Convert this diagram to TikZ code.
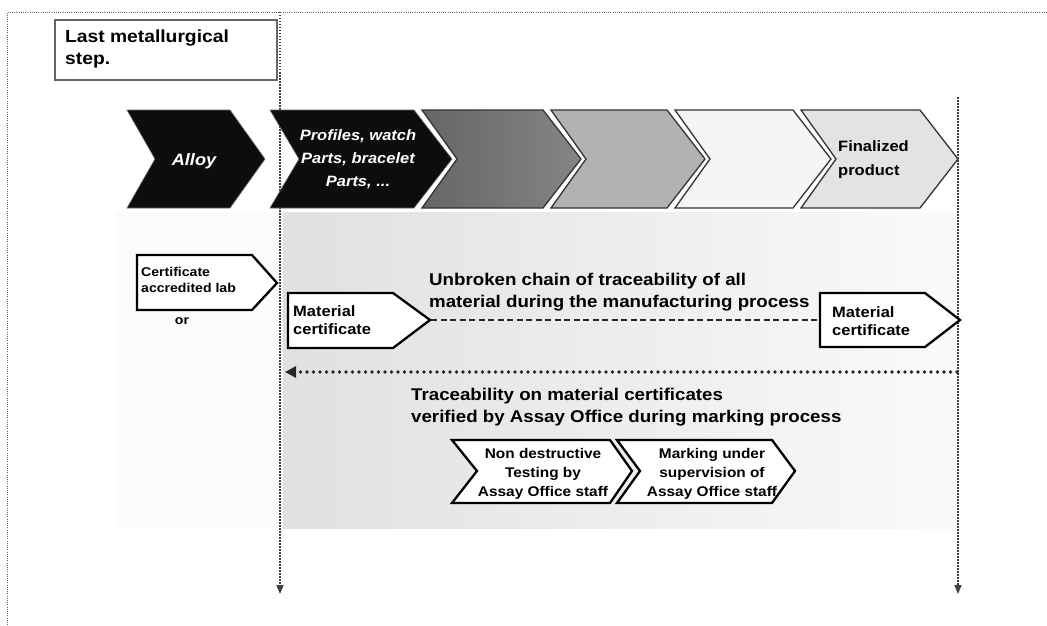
\documentclass[tikz,border=0pt]{standalone}
\usepackage{fontspec}
\setmainfont[FakeStretch=1.1]{Liberation Sans}
\usetikzlibrary{arrows.meta}
\begin{document}
\begin{tikzpicture}[x=1pt,y=-1pt,
  frame/.style={draw=black!60, line width=0.9pt, dash pattern=on 1pt off 1.2pt},
  guide/.style={draw=black!75, line width=1.6pt, dash pattern=on 1.5pt off 1.5pt, -{Triangle[length=9pt,width=7pt]}},
  dotarrow/.style={draw=black!85, line width=3.6pt, dash pattern=on 0pt off 6.5pt, line cap=round, -{Triangle[length=11pt,width=11pt]}},
  dasharrow/.style={draw=black!85, line width=2.4pt, dash pattern=on 6pt off 3.5pt},
  darkchev/.style={fill=black!95, draw=black!60, line width=0.6pt},
  graychev/.style={draw=black!80, line width=1.3pt, line join=miter},
  cert/.style={draw=black, line width=2.3pt, fill=white, line join=miter},
  titlebox/.style={draw=black!60, line width=2.2pt, fill=white},
  wtxt/.style={text=white, inner sep=0pt, align=center},
  btxt/.style={text=black, inner sep=0pt},
]
\useasboundingbox (0,0) rectangle (1047,626);
\fill[white] (0,0) rectangle (1047,626);
% background shading
\fill[gray!3] (115,212) rectangle (283,528);
\shade[left color=gray!24, middle color=gray!20, right color=gray!4] (283,212) rectangle (957,528);

% outer frame
\coordinate (fTL) at (7,12);
\coordinate (fTR) at (1047,12);
\coordinate (fBL) at (7,626);
\draw[frame] (fTR) -- (fTL) -- (fBL);

% title box
\draw[titlebox] (55,20) rectangle (277,80);
\node[btxt, anchor=west, align=left, font=\bfseries\fontsize{17.5}{22}\selectfont] (title) at (65,49) {Last metallurgical\\step.};

% vertical guides
\coordinate (gLt) at (280,12);
\coordinate (gLb) at (280,594);
\coordinate (gRt) at (958,97);
\coordinate (gRb) at (958,594);
\draw[guide] (gLt) -- (gLb);
\draw[guide] (gRt) -- (gRb);

% chevron row
\path[darkchev] (127,110) -- (230,110) -- (265,159) -- (230,208) -- (127,208) -- (155,159) -- cycle;
\path[darkchev] (270,110) -- (414,110) -- (452,159) -- (414,208) -- (270,208) -- (299,159) -- cycle;
\path[graychev, left color=black!60, right color=black!48] (422,110) -- (543,110) -- (581,159) -- (543,208) -- (422,208) -- (457,159) -- cycle;
\path[graychev, fill=black!30] (551,110) -- (667,110) -- (705,159) -- (667,208) -- (551,208) -- (586,159) -- cycle;
\path[graychev, fill=black!4] (675,110) -- (793,110) -- (831,159) -- (793,208) -- (675,208) -- (710,159) -- cycle;
\path[graychev, fill=black!11] (801,110) -- (920,110) -- (958,159) -- (920,208) -- (801,208) -- (836,159) -- cycle;

\node[wtxt, font=\bfseries\itshape\fontsize{16.5}{20}\selectfont] (alloy) at (194,161) {Alloy};
\node[wtxt, font=\bfseries\itshape\fontsize{15}{23}\selectfont] (profiles) at (358,159) {Profiles, watch\\Parts, bracelet\\Parts, ...};
\node[btxt, anchor=west, align=left, font=\bfseries\fontsize{15}{24}\selectfont] (final) at (838,160) {Finalized\\product};

% certificates
\path[cert] (137,255) -- (252,255) -- (277,283) -- (252,310) -- (137,310) -- cycle;
\node[btxt, anchor=west, align=left, font=\bfseries\fontsize{12.8}{16}\selectfont] (accr) at (141,280) {Certificate\\accredited lab};
\node[btxt, font=\bfseries\fontsize{12.8}{16}\selectfont] (or) at (182,321) {or};

\path[cert] (288,293) -- (393,293) -- (430,320) -- (393,348) -- (288,348) -- cycle;
\node[btxt, anchor=west, align=left, font=\bfseries\fontsize{15}{18}\selectfont] (mat1) at (293,320) {Material\\certificate};
\path[cert] (820,293) -- (925,293) -- (960,320) -- (925,347) -- (820,347) -- cycle;
\node[btxt, anchor=west, align=left, font=\bfseries\fontsize{15}{18}\selectfont] (mat2) at (832,321) {Material\\certificate};

\coordinate (m1tip) at (431,320);
\coordinate (m2west) at (819,320);
\draw[dasharrow] (m1tip) -- (m2west);

\node[btxt, anchor=west, align=left, font=\bfseries\fontsize{17}{21.5}\selectfont] (chain) at (429,292) {Unbroken chain of traceability of all\\material during the manufacturing process};

% traceability arrow
\coordinate (hR) at (957,372);
\coordinate (hL) at (285,372);
\draw[dotarrow] (hR) -- (hL);

\node[btxt, anchor=west, align=left, font=\bfseries\fontsize{17}{22}\selectfont] (verif) at (411,407) {Traceability on material certificates\\verified by Assay Office during marking process};

% lower chevrons
\path[cert] (452,440) -- (610,440) -- (632,471) -- (610,503) -- (452,503) -- (477,471) -- cycle;
\path[cert] (617,440) -- (772,440) -- (795,471) -- (772,503) -- (617,503) -- (640,471) -- cycle;
\node[btxt, align=center, font=\bfseries\fontsize{14}{19}\selectfont] (ndt) at (543,474) {Non destructive\\Testing by\\Assay Office staff};
\node[btxt, align=center, font=\bfseries\fontsize{14}{19}\selectfont] (mark) at (712,474) {Marking under\\supervision of\\Assay Office staff};
\end{tikzpicture}
\end{document}
